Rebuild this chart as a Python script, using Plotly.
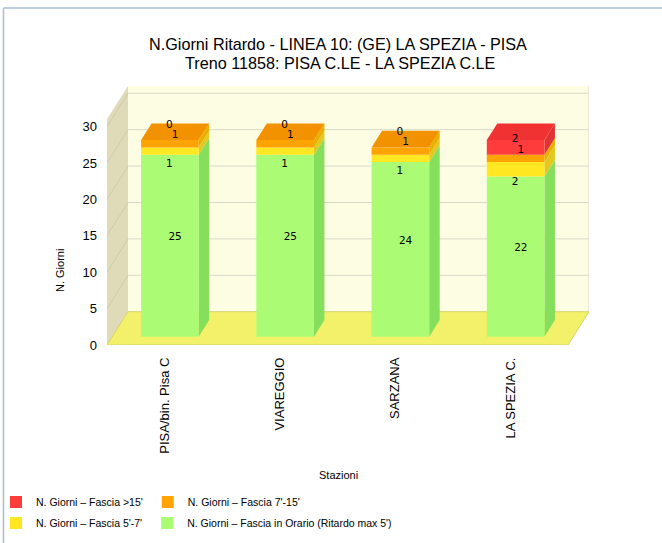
import plotly.graph_objects as go

# ---------------- data ----------------
stations = ["PISA/bin. Pisa C", "VIAREGGIO", "SARZANA", "LA SPEZIA C."]
in_orario = [25, 25, 24, 22]        # Fascia in Orario (Ritardo max 5')
fascia_5_7 = [1, 1, 1, 2]           # Fascia 5'-7'
fascia_7_15 = [1, 1, 1, 1]          # Fascia 7'-15'
fascia_15 = [0, 0, 0, 2]            # Fascia >15'

series_names = [
    "N. Giorni – Fascia in Orario (Ritardo max 5')",
    "N. Giorni – Fascia 5'-7'",
    "N. Giorni – Fascia 7'-15'",
    "N. Giorni – Fascia >15'",
]
series_values = [in_orario, fascia_5_7, fascia_7_15, fascia_15]

title_line1 = "N.Giorni Ritardo - LINEA 10: (GE) LA SPEZIA - PISA"
title_line2 = "Treno 11858: PISA C.LE - LA SPEZIA C.LE"
y_ticks = [0, 5, 10, 15, 20, 25, 30]

# ---------------- styles ----------------
front_col = ["#abfc74", "#ffe822", "#ffa300", "#ff3c3c"]
side_col = ["#86df5c", "#e2c820", "#eab000", "#e03434"]
top_col = ["#98ee66", "#f5d81a", "#f39200", "#f03232"]
legend_of = ["legend2", "legend2", "legend", "legend"]
legend_rank = [4, 3, 2, 1]
# label offsets (x in category units, y in value units)
lab_dx = [0.0, -0.05, 0.0, -0.05]
lab_dy = [0.0, -3.0, 0.0, 0.0]

DX = 0.1822      # depth offset of the 3D box (x units)
DY = 4.574       # depth offset of the 3D box (y units)
WALL_TOP = 31
BAR_W = 0.5
F_FRONT = 0.25   # bar front face depth fraction
F_DEPTH = 0.5    # bar depth fraction

FONT = "Liberation Sans, Arial, sans-serif"
PL, PR, PT, PB = 107, 589, 86, 345   # plot area in pixels
PW, PH = PR - PL, PB - PT


def px_x(p):
    return (p - PL) / PW


def px_y(p):
    return (PB - p) / PH


n = len(stations)
fig = go.Figure()

bases = []
acc = [0] * n
for vals in series_values:
    bases.append(list(acc))
    acc = [a + v for a, v in zip(acc, vals)]
totals = acc

sx = F_FRONT * DX
sy = F_FRONT * DY
hx = F_DEPTH * DX
hy = F_DEPTH * DY

# side faces
for k, vals in enumerate(series_values):
    xs, ys = [], []
    for i in range(n):
        if vals[i] <= 0:
            continue
        xr = i + sx + BAR_W / 2
        b = bases[k][i] + sy
        t = bases[k][i] + vals[i] + sy
        xs += [xr, xr + hx, xr + hx, xr, xr, None]
        ys += [b, b + hy, t + hy, t, b, None]
    fig.add_trace(go.Scatter(x=xs, y=ys, mode="lines", fill="toself",
                             fillcolor=side_col[k], line=dict(width=0),
                             hoverinfo="skip", showlegend=False, zorder=0))

# top faces (colour of the top-most non-zero segment)
for i in range(n):
    kt = max(k for k in range(len(series_values)) if series_values[k][i] > 0)
    xl = i + sx - BAR_W / 2
    xr = i + sx + BAR_W / 2
    t = totals[i] + sy
    fig.add_trace(go.Scatter(x=[xl, xr, xr + hx, xl + hx, xl],
                             y=[t, t, t + hy, t + hy, t],
                             mode="lines", fill="toself", fillcolor=top_col[kt],
                             line=dict(width=0), hoverinfo="skip",
                             showlegend=False, zorder=0))

# front faces
for k, vals in enumerate(series_values):
    fig.add_trace(go.Bar(
        x=[i + sx for i in range(n)], y=vals,
        base=[b + sy for b in bases[k]], width=BAR_W,
        marker=dict(color=front_col[k], line=dict(width=0)),
        name=series_names[k], legend=legend_of[k], legendrank=legend_rank[k],
        hoverinfo="skip", zorder=1))

# labels
for k, vals in enumerate(series_values):
    lx, ly, lt = [], [], []
    for i in range(n):
        mid = bases[k][i] + vals[i] / 2 + F_FRONT * DY + hy / 2
        lx.append(i + sx + hx / 2 + lab_dx[k])
        ly.append(mid + lab_dy[k] + (0.9 if vals[i] == 0 else 0))
        lt.append(str(vals[i]))
    fig.add_trace(go.Scatter(x=lx, y=ly, text=lt, mode="text",
                             textposition="middle center",
                             textfont=dict(family="DejaVu Sans", size=10.5, color="#000000"),
                             hoverinfo="skip", showlegend=False, zorder=2))

# ---------------- 3D box decoration ----------------
x0 = -0.5
x1 = n - 0.5
shapes = []
shapes.append(dict(type="rect", xref="x", yref="y", x0=x0 + DX, x1=x1 + DX,
                   y0=DY, y1=WALL_TOP + DY, fillcolor="#fdfde3",
                   line=dict(width=0), layer="below"))
shapes.append(dict(type="path", xref="x", yref="y",
                   path=f"M{x0},0 L{x0 + DX},{DY} L{x0 + DX},{WALL_TOP + DY} L{x0},{WALL_TOP} Z",
                   fillcolor="#dfdbb9", line=dict(width=0), layer="below"))
for v in y_ticks[1:]:
    shapes.append(dict(type="line", xref="x", yref="y", x0=x0 + DX, x1=x1 + DX,
                       y0=v + DY, y1=v + DY, line=dict(color="#d9d9c9", width=1),
                       layer="below"))
    shapes.append(dict(type="line", xref="x", yref="y", x0=x0, x1=x0 + DX,
                       y0=v, y1=v + DY, line=dict(color="#cfcbaa", width=1),
                       layer="below"))
shapes.append(dict(type="line", xref="x", yref="y", x0=x1 + DX, x1=x1 + DX,
                   y0=DY, y1=WALL_TOP + DY, line=dict(color="#d4d4c4", width=1),
                   layer="below"))
shapes.append(dict(type="path", xref="x", yref="y",
                   path=f"M{x0},0 L{x1},0 L{x1 + DX},{DY} L{x0 + DX},{DY} Z",
                   fillcolor="#f3f16a", line=dict(color="#d6d36a", width=1),
                   layer="below"))
# outer frame (left + top)
shapes.append(dict(type="line", xref="paper", yref="paper", x0=px_x(3.5), x1=px_x(3.5),
                   y0=px_y(560), y1=px_y(8), line=dict(color="#a9bdd8", width=1.5)))
shapes.append(dict(type="line", xref="paper", yref="paper", x0=px_x(3.5), x1=px_x(670),
                   y0=px_y(8), y1=px_y(8), line=dict(color="#a9bdd8", width=1.5)))

annotations = [
    dict(text=title_line2, xref="paper", yref="paper", x=px_x(340), y=px_y(63),
         xanchor="center", yanchor="middle", showarrow=False,
         font=dict(family=FONT, size=16.2, color="#000000")),
    dict(text="N. Giorni", xref="paper", yref="paper", x=px_x(60), y=px_y(271),
         xanchor="center", yanchor="middle", textangle=-90, showarrow=False,
         font=dict(family=FONT, size=11, color="#000000")),
    dict(text="Stazioni", xref="paper", yref="paper", x=px_x(338), y=px_y(475),
         xanchor="center", yanchor="middle", showarrow=False,
         font=dict(family=FONT, size=11, color="#000000")),
]

fig.update_layout(
    width=662, height=543, autosize=False,
    margin=dict(l=PL, r=662 - PR, t=PT, b=543 - PB, autoexpand=False),
    paper_bgcolor="#ffffff", plot_bgcolor="rgba(0,0,0,0)",
    barmode="overlay",
    title=dict(text=title_line1, x=338 / 662, xref="container", xanchor="center",
               y=1 - 44 / 543, yref="container", yanchor="middle",
               font=dict(family=FONT, size=16.2, color="#000000")),
    xaxis=dict(range=[x0, x1 + DX], tickvals=list(range(n)), ticktext=stations,
               tickangle=-90, tickfont=dict(family=FONT, size=13, color="#000000"),
               showgrid=False, zeroline=False, showline=False, ticks="",
               ticklabelstandoff=9, fixedrange=True),
    yaxis=dict(range=[0, WALL_TOP + DY], tickvals=y_ticks,
               tickfont=dict(family=FONT, size=13, color="#000000"),
               showgrid=False, zeroline=False, showline=False, ticks="",
               ticklabelstandoff=9, fixedrange=True),
    shapes=shapes, annotations=annotations,
    legend=dict(orientation="h", x=px_x(-4), xanchor="left",
                y=px_y(502), yanchor="middle", itemwidth=30,
                font=dict(family=FONT, size=10.5, color="#000000"),
                bgcolor="rgba(0,0,0,0)", tracegroupgap=0),
    legend2=dict(orientation="h", x=px_x(-4), xanchor="left",
                 y=px_y(523), yanchor="middle", itemwidth=30,
                 font=dict(family=FONT, size=10.5, color="#000000"),
                 bgcolor="rgba(0,0,0,0)", tracegroupgap=0),
    showlegend=True,
)

fig.write_html("out.html", config={"displayModeBar": False},
               post_script="document.body.style.margin='0px';")
